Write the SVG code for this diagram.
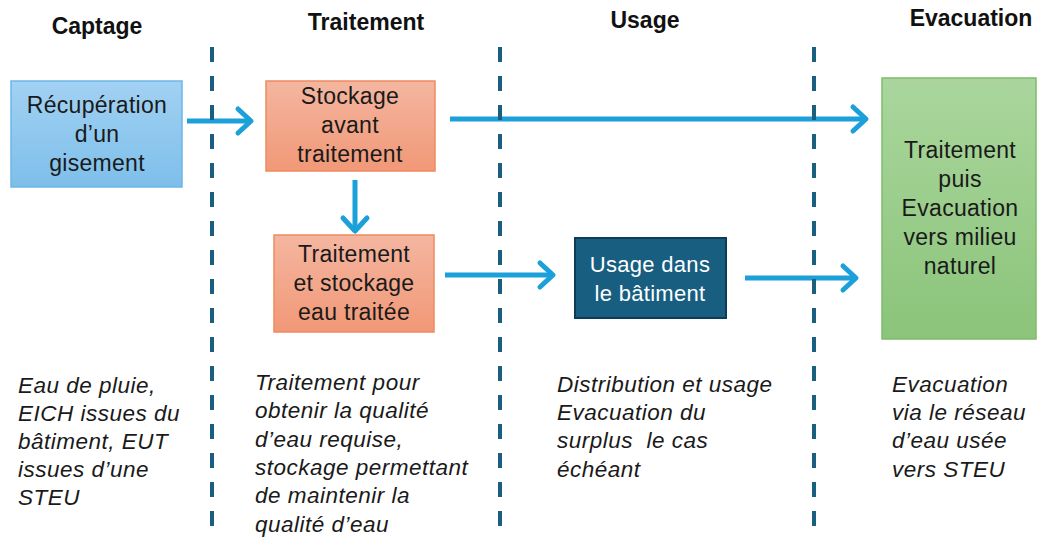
<svg xmlns="http://www.w3.org/2000/svg" width="1037" height="538" viewBox="0 0 1037 538">
  <defs>
    <linearGradient id="gBlue" x1="0" y1="0" x2="0" y2="1">
      <stop offset="0" stop-color="#A2D1F3"/>
      <stop offset="1" stop-color="#7DBFEA"/>
    </linearGradient>
    <linearGradient id="gOrange" x1="0" y1="0" x2="0" y2="1">
      <stop offset="0" stop-color="#F4B6A0"/>
      <stop offset="1" stop-color="#F19877"/>
    </linearGradient>
    <linearGradient id="gGreen" x1="0" y1="0" x2="0" y2="1">
      <stop offset="0" stop-color="#AAD69D"/>
      <stop offset="1" stop-color="#8BC47A"/>
    </linearGradient>
    <marker id="chev" markerUnits="userSpaceOnUse" markerWidth="24" markerHeight="34" viewBox="-18 -17 24 34" refX="0" refY="0" orient="auto">
      <path d="M-13,-12 L0,0 L-13,12" fill="none" stroke="#1BA0DA" stroke-width="5" stroke-linecap="round" stroke-linejoin="round"/>
    </marker>
  </defs>
  <style>
    .hdr { font-family: "Liberation Sans", Arial, sans-serif; font-weight: bold; font-size: 23px; fill: #111; text-anchor: middle; }
    .box { font-family: "Liberation Sans", Arial, sans-serif; font-size: 23px; letter-spacing: 0.3px; fill: #1a1a1a; text-anchor: middle; }
    .boxw { font-family: "Liberation Sans", Arial, sans-serif; font-size: 22px; letter-spacing: 0.3px; fill: #ffffff; text-anchor: middle; }
    .note { font-family: "Liberation Sans", Arial, sans-serif; font-style: italic; font-size: 22.5px; letter-spacing: 0.5px; fill: #1a1a1a; }
    .conn { stroke: #1BA0DA; stroke-width: 5; fill: none; marker-end: url(#chev); }
    .div { stroke: #1A5F80; stroke-width: 4; stroke-dasharray: 15 14; }
  </style>
  <rect width="1037" height="538" fill="#ffffff"/>

  <g id="headers">
    <text class="hdr" x="97" y="34">Captage</text>
    <text class="hdr" x="366" y="30">Traitement</text>
    <text class="hdr" x="645" y="28">Usage</text>
    <text class="hdr" x="971" y="26">Evacuation</text>
  </g>

  <g id="node-recuperation">
    <rect x="11" y="81" width="171" height="106" fill="url(#gBlue)" stroke="#6DB6E6" stroke-width="1.5"/>
    <text class="box" x="97" y="113">Récupération</text>
    <text class="box" x="97" y="142">d’un</text>
    <text class="box" x="97" y="171">gisement</text>
  </g>

  <g id="node-stockage">
    <rect x="266" y="81" width="169" height="90" fill="url(#gOrange)" stroke="#EE8A60" stroke-width="1.5"/>
    <text class="box" x="350" y="104">Stockage</text>
    <text class="box" x="350" y="133">avant</text>
    <text class="box" x="350" y="162">traitement</text>
  </g>

  <g id="node-traitement">
    <rect x="274" y="235" width="160" height="97" fill="url(#gOrange)" stroke="#EE8A60" stroke-width="1.5"/>
    <text class="box" x="354" y="262">Traitement</text>
    <text class="box" x="354" y="291">et stockage</text>
    <text class="box" x="354" y="320">eau traitée</text>
  </g>

  <g id="node-usage">
    <rect x="575" y="238" width="151" height="80" fill="#175E80" stroke="#0E3B55" stroke-width="2"/>
    <text class="boxw" x="650" y="272">Usage dans</text>
    <text class="boxw" x="650" y="301">le bâtiment</text>
  </g>

  <g id="node-evacuation">
    <rect x="882" y="78" width="154" height="261" fill="url(#gGreen)" stroke="#7DBC6B" stroke-width="1.5"/>
    <text class="box" x="960" y="158">Traitement</text>
    <text class="box" x="960" y="187">puis</text>
    <text class="box" x="960" y="216">Evacuation</text>
    <text class="box" x="960" y="245">vers milieu</text>
    <text class="box" x="960" y="274">naturel</text>
  </g>

  <g id="connectors">
    <line class="conn" x1="187" y1="121" x2="251" y2="121"/>
    <line class="conn" x1="450" y1="119" x2="866" y2="119"/>
    <line class="conn" x1="355" y1="180" x2="355" y2="231"/>
    <line class="conn" x1="445" y1="275" x2="553" y2="275"/>
    <line class="conn" x1="745" y1="278" x2="856" y2="278"/>
  </g>

  <g id="dividers">
    <line class="div" x1="212" y1="47" x2="212" y2="538"/>
    <line class="div" x1="500" y1="47" x2="500" y2="538"/>
    <line class="div" x1="814" y1="47" x2="814" y2="538"/>
  </g>

  <g id="notes">
    <text class="note" x="18" y="393">Eau de pluie,</text>
    <text class="note" x="18" y="421">EICH issues du</text>
    <text class="note" x="18" y="449">bâtiment, EUT</text>
    <text class="note" x="18" y="477">issues d’une</text>
    <text class="note" x="18" y="505">STEU</text>

    <text class="note" x="255" y="390">Traitement pour</text>
    <text class="note" x="255" y="418">obtenir la qualité</text>
    <text class="note" x="255" y="447">d’eau requise,</text>
    <text class="note" x="255" y="475">stockage permettant</text>
    <text class="note" x="255" y="503">de maintenir la</text>
    <text class="note" x="255" y="532">qualité d’eau</text>

    <text class="note" x="557" y="392">Distribution et usage</text>
    <text class="note" x="557" y="420">Evacuation du</text>
    <text class="note" x="557" y="448" xml:space="preserve">surplus  le cas</text>
    <text class="note" x="557" y="477">échéant</text>

    <text class="note" x="892" y="392">Evacuation</text>
    <text class="note" x="892" y="420">via le réseau</text>
    <text class="note" x="892" y="448">d’eau usée</text>
    <text class="note" x="892" y="477">vers STEU</text>
  </g>
</svg>
